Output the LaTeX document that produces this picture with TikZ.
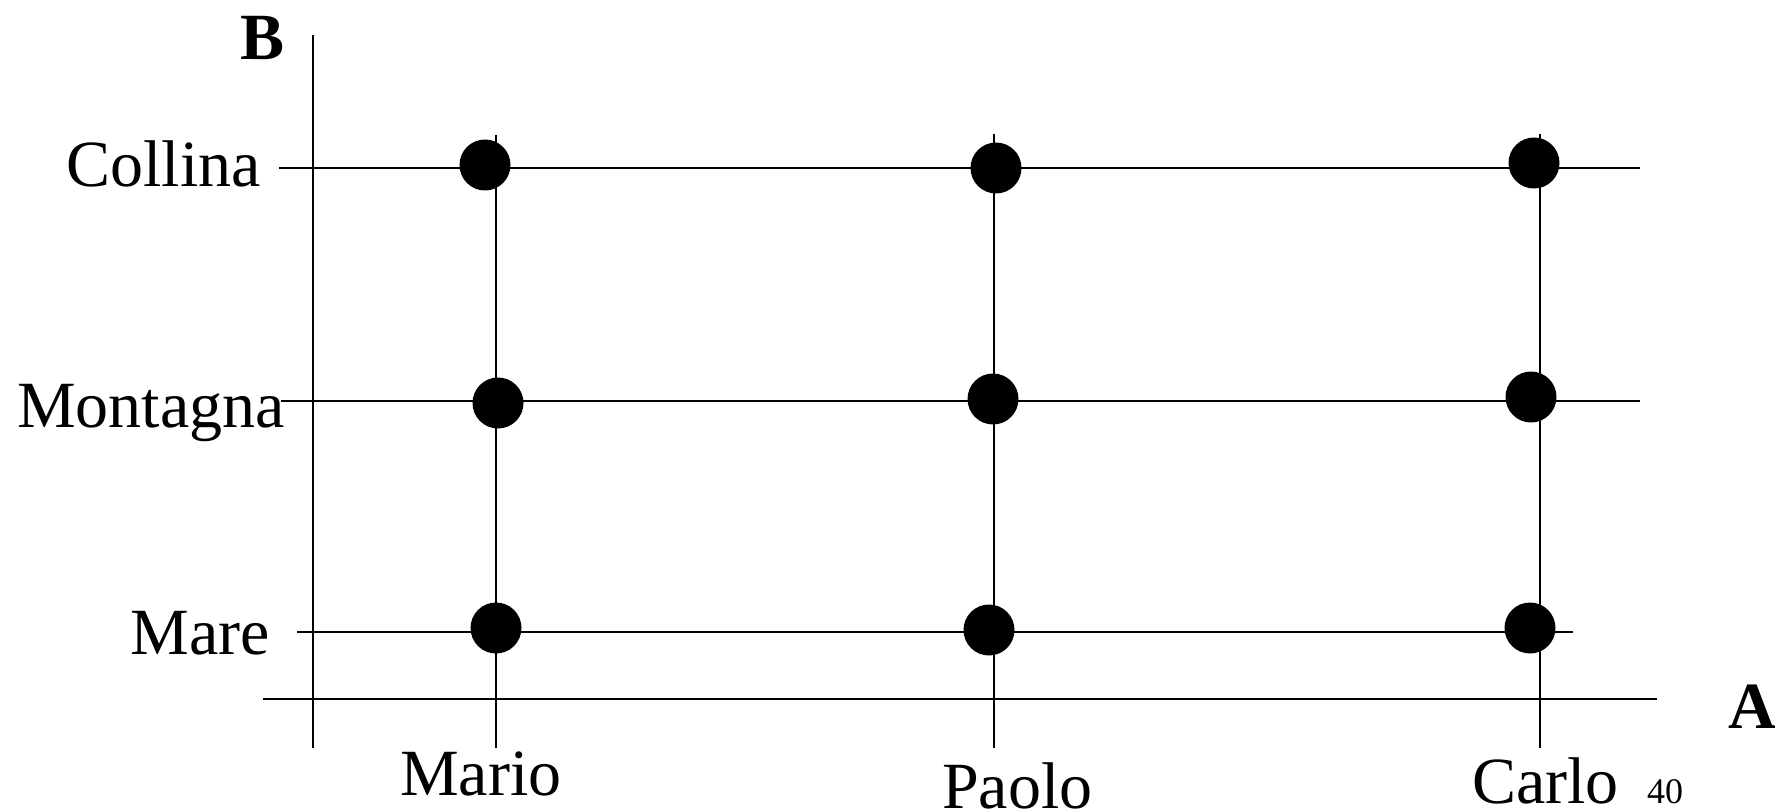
\documentclass[tikz,border=0pt]{standalone}
\usepackage{fontspec}
\setmainfont{Liberation Serif}
\begin{document}
\begin{tikzpicture}[x=1pt,y=-1pt,
  hline/.style={line width=1.8pt},
  vline/.style={line width=1.5pt},
  dot/.style={circle,fill=black,inner sep=0pt,minimum size=51pt},
  lab/.style={inner sep=0pt,font=\fontsize{66}{70}\selectfont},
  axlab/.style={inner sep=0pt,font=\fontsize{66}{70}\selectfont\bfseries}]
\useasboundingbox[fill=white] (0,0) rectangle (1775,810);
% coordinates of line ends
\coordinate (c1) at (279,168);  \coordinate (c2) at (1640,168);
\coordinate (m1) at (281,401);  \coordinate (m2) at (1640,401);
\coordinate (r1) at (297,632);  \coordinate (r2) at (1573,632);
\coordinate (a1) at (263,699);  \coordinate (a2) at (1657,699);
\coordinate (b1) at (313,35);   \coordinate (b2) at (313,748);
\coordinate (ma1) at (496,135); \coordinate (ma2) at (496,748);
\coordinate (pa1) at (994,134); \coordinate (pa2) at (994,748);
\coordinate (ca1) at (1540,134);\coordinate (ca2) at (1540,748);
% lines
\draw[hline] (c1) -- (c2);
\draw[hline] (m1) -- (m2);
\draw[hline] (r1) -- (r2);
\draw[hline] (a1) -- (a2);
\draw[vline] (b1) -- (b2);
\draw[vline] (ma1) -- (ma2);
\draw[vline] (pa1) -- (pa2);
\draw[vline] (ca1) -- (ca2);
% dots
\node[dot] (d11) at (485,165) {};
\node[dot] (d12) at (498,403) {};
\node[dot] (d13) at (496,628) {};
\node[dot] (d21) at (996,168) {};
\node[dot] (d22) at (993,399) {};
\node[dot] (d23) at (989,630) {};
\node[dot] (d31) at (1534,163) {};
\node[dot] (d32) at (1531,397) {};
\node[dot] (d33) at (1530,628) {};
% labels
\node[axlab,anchor=base west] (B) at (240,60) {B};
\node[axlab,anchor=base west] (A) at (1728,728) {A};
\node[lab,anchor=base east] (collina) at (261,187) {Collina};
\node[lab,anchor=base east] (montagna) at (285,427) {Montagna};
\node[lab,anchor=base east] (mare) at (270,654) {Mare};
\node[lab,anchor=base west] (mario) at (400,795) {Mario};
\node[lab,anchor=base west] (paolo) at (942,808) {Paolo};
\node[lab,anchor=base west] (carlo) at (1472,803) {Carlo};
\node[inner sep=0pt,font=\fontsize{36}{40}\selectfont,anchor=base west] (pg) at (1647,803) {40};
\end{tikzpicture}
\end{document}
